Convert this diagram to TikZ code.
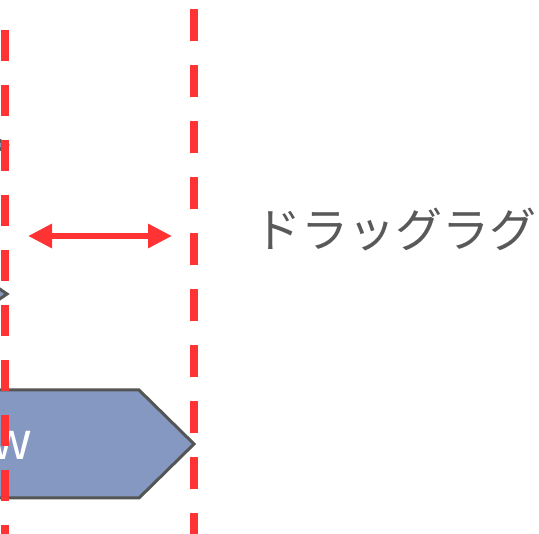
\documentclass[tikz,border=0pt]{standalone}
\usepackage{fontspec}
\setmainfont{Noto Sans CJK JP}
\usetikzlibrary{arrows.meta}
\definecolor{dashred}{RGB}{255,51,51}
\definecolor{boxfill}{RGB}{132,152,193}
\definecolor{edgegray}{RGB}{85,85,85}
\definecolor{textgray}{RGB}{89,89,89}
\tikzset{
  reddash/.style={draw=dashred,line width=8pt,line cap=butt},
  shapebox/.style={fill=boxfill,draw=edgegray,line width=3pt,line join=miter},
  lagarrow/.style={draw=dashred,line width=6pt,{Triangle[length=24pt,width=23pt]}-{Triangle[length=24pt,width=23pt]}},
  bigtext/.style={inner sep=0pt,font=\fontsize{47pt}{51pt}\selectfont}
}
\begin{document}
\begin{tikzpicture}[x=1pt,y=-1pt]
\useasboundingbox (0,0) rectangle (539,534);
\clip (0,0) rectangle (539,534);
% partial diamonds at left edge
\draw[shapebox] (-12,133) -- (7,145) -- (-12,157) -- cycle;
\draw[shapebox] (-12,281) -- (7,294) -- (-12,307) -- cycle;
% pentagon arrow box
\draw[shapebox] (-40,390) -- (139,390) -- (194,444) -- (139,498) -- (-40,498) -- cycle;
\node[inner sep=0pt,font=\fontsize{52pt}{56pt}\selectfont,text=white,anchor=base east] (flow) at (32,460) {w};
% dashed lines
\coordinate (l1) at (4.7,30);
\coordinate (l2) at (4.7,560);
\coordinate (r1) at (194,9);
\coordinate (r2) at (194,560);
\draw[reddash,dash pattern=on 31pt off 24pt] (l1) -- (l2);
\draw[reddash,dash pattern=on 32pt off 24pt] (r1) -- (r2);
% double arrow
\coordinate (a1) at (28,236);
\coordinate (a2) at (172,236);
\draw[lagarrow] (a1) -- (a2);
% label
\node[bigtext,text=textgray,anchor=base west] (lag) at (254,248) {ドラッグラグ};
\end{tikzpicture}
\end{document}
